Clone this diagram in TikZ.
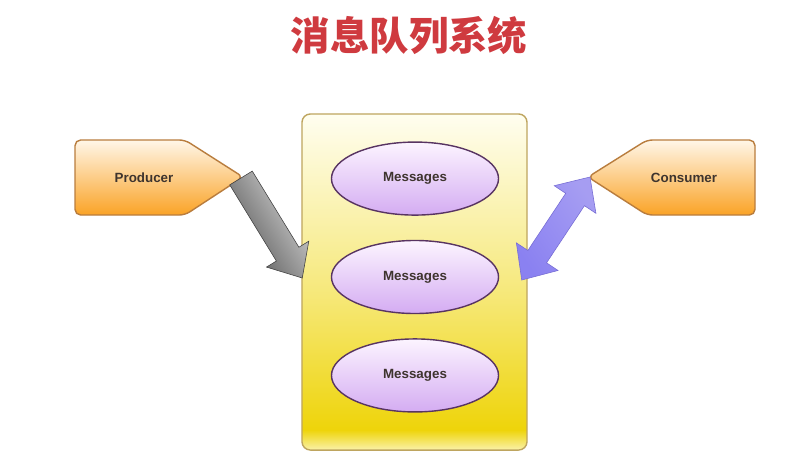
\documentclass[tikz,border=0pt]{standalone}
\usepackage{fontspec}
\setmainfont{Liberation Sans}
\newfontfamily\cjk{Noto Sans CJK SC}
\usetikzlibrary{positioning, calc, shapes.geometric}
\definecolor{titlered}{RGB}{207, 58, 63}
\definecolor{qtop}{RGB}{255, 254, 240}
\definecolor{qmid}{RGB}{246, 232, 120}
\definecolor{qdeep}{RGB}{238, 212, 10}
\definecolor{qlight}{RGB}{250, 242, 170}
\definecolor{qedge}{RGB}{190, 165, 95}
\definecolor{msgtop}{RGB}{252, 244, 255}
\definecolor{msgbot}{RGB}{212, 172, 242}
\definecolor{msgedge}{RGB}{88, 52, 98}
\definecolor{agenttop}{RGB}{255, 246, 232}
\definecolor{agentbot}{RGB}{250, 163, 38}
\definecolor{agentedge}{RGB}{185, 125, 62}
\definecolor{labeltext}{RGB}{62, 52, 46}
\definecolor{pullfill}{RGB}{150, 140, 240}
\definecolor{pulledge}{RGB}{118, 108, 212}
\pgfdeclareverticalshading{queueshade}{100bp}{color(0bp)=(qlight); color(25bp)=(qlight);
    color(28bp)=(qdeep); color(48bp)=(qmid); color(75bp)=(qtop); color(100bp)=(qtop)}

\begin{document}
\begin{tikzpicture}[
    x=0.025cm, y=-0.025cm,
    label font/.style={font=\bfseries\fontsize{9.5}{11}\selectfont, text=labeltext},
    queuebox/.style={draw=qedge, line width=1pt, rounded corners=6pt,
        shading=queueshade, minimum width=5.625cm, minimum height=8.4cm},
    msg/.style={ellipse, draw=msgedge, line width=1pt, top color=msgtop,
        bottom color=msgbot, minimum width=4.175cm, minimum height=1.825cm,
        inner sep=0pt, label font},
    agent/.style={draw=agentedge, line width=1pt, top color=agenttop,
        bottom color=agentbot, rounded corners=4pt},
    pushshade/.style={top color=gray!30, bottom color=gray!65!black,
        shading angle=-58.6, draw=gray!50!black, line width=0.4pt},
    pullshade/.style={top color=pullfill!85!white, bottom color=pullfill!92!blue,
        shading angle=-56, draw=pulledge, line width=0.4pt},
]

\useasboundingbox[fill=white] (0,0) rectangle (796,475);

% --- Title ---
\node[font=\cjk\bfseries\fontsize{28}{31}\selectfont, text=titlered]
    (title) at (409,35) {消息队列系统};

% --- Queue with messages ---
\node[queuebox] (queue) at (414.5,282) {};
\node[msg] (msg2) at (415,277) {Messages};
\node[msg, above=0.6cm of msg2] (msg1) {Messages};
\node[msg, below=0.6cm of msg2] (msg3) {Messages};

% --- Producer / Consumer ---
\shade[agent] (75,140) -- (185,140) -- (243,177) -- (185,215) -- (75,215) -- cycle;
\node[label font] (prod) at (144,178) {Producer};
\coordinate (prodtip) at (241,178);

\shade[agent] (755,140) -- (647,140) -- (588,177) -- (647,215) -- (755,215) -- cycle;
\node[label font] (cons) at (684,178) {Consumer};
\coordinate (constip) at (590,177);

% --- Push arrow (producer -> queue) ---
\coordinate (g1) at (prodtip);
\coordinate (g2) at ($(queue.west)+(1,-4)$);
\coordinate (gh) at ($(g2)!0.7cm!(g1)$);
\shade[pushshade]
    ($(g1)!0.33cm!90:(g2)$) -- ($(gh)!0.33cm!90:(g2)$) -- ($(gh)!0.62cm!90:(g2)$)
    -- (g2) -- ($(gh)!0.62cm!-90:(g2)$) -- ($(gh)!0.33cm!-90:(g2)$)
    -- ($(g1)!0.33cm!-90:(g2)$) -- cycle;

% --- Pull arrow (queue <-> consumer) ---
\coordinate (c1) at ($(queue.east)+(-6,-2)$);
\coordinate (c2) at (constip);
\coordinate (ch1) at ($(c1)!0.7cm!(c2)$);
\coordinate (ch2) at ($(c2)!0.675cm!(c1)$);
\shade[pullshade]
    (c1) -- ($(ch1)!0.625cm!90:(c2)$) -- ($(ch1)!0.28cm!90:(c2)$)
    -- ($(ch2)!0.28cm!90:(c2)$) -- ($(ch2)!0.625cm!90:(c2)$) -- (c2)
    -- ($(ch2)!0.625cm!-90:(c2)$) -- ($(ch2)!0.28cm!-90:(c2)$)
    -- ($(ch1)!0.28cm!-90:(c2)$) -- ($(ch1)!0.625cm!-90:(c2)$) -- cycle;

\end{tikzpicture}
\end{document}
